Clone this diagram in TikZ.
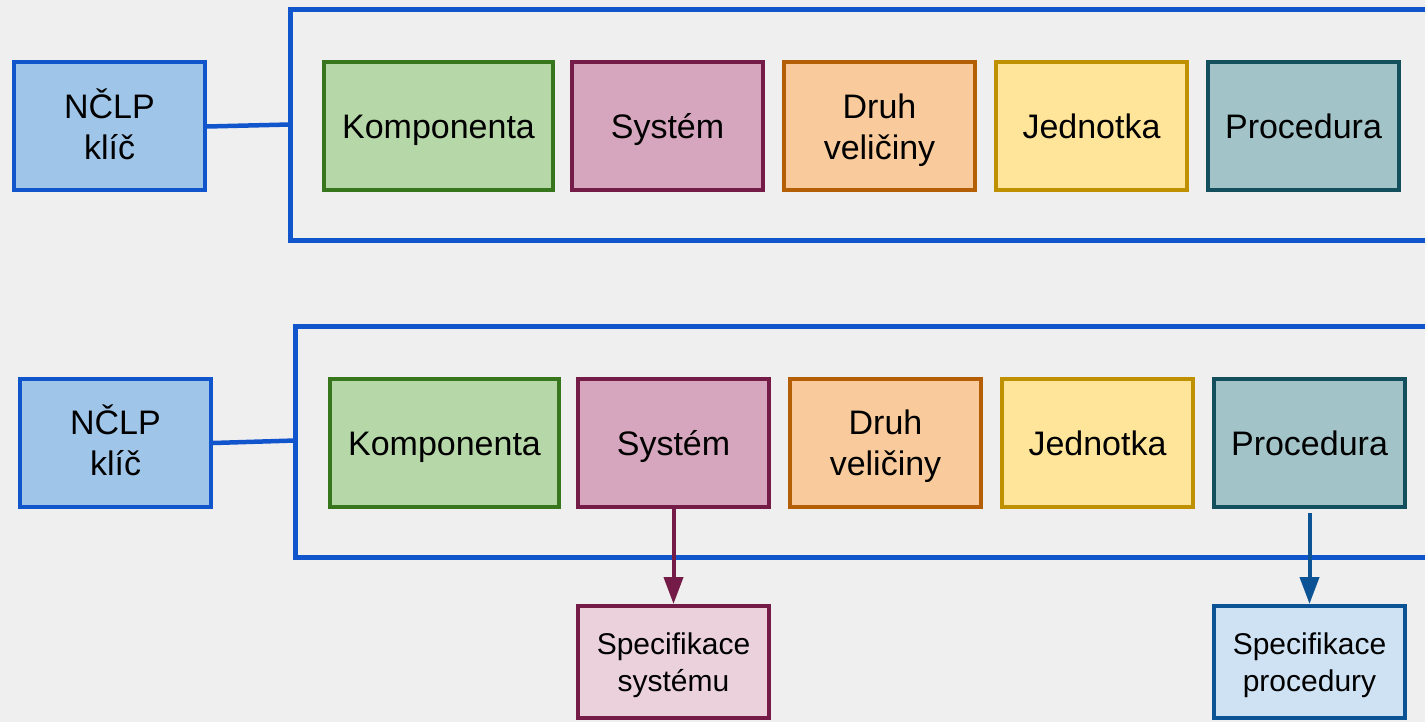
\documentclass[tikz,border=0pt]{standalone}
\usepackage{fontspec}
\setmainfont{Liberation Sans}
\usetikzlibrary{arrows.meta}
\definecolor{bg}{HTML}{EFEFEF}
\definecolor{frameblue}{HTML}{1155CC}
\definecolor{keyfill}{HTML}{9FC5E8}
\definecolor{gfill}{HTML}{B6D7A8}\definecolor{gline}{HTML}{38761D}
\definecolor{pfill}{HTML}{D5A6BD}\definecolor{pline}{HTML}{741B47}
\definecolor{ofill}{HTML}{F9CB9C}\definecolor{oline}{HTML}{B45F06}
\definecolor{yfill}{HTML}{FFE599}\definecolor{yline}{HTML}{BF9000}
\definecolor{tfill}{HTML}{A2C4C9}\definecolor{tline}{HTML}{134F5C}
\definecolor{lpfill}{HTML}{EAD1DC}
\definecolor{lbfill}{HTML}{CFE2F3}\definecolor{bline}{HTML}{0B5394}
\newcommand\bigst{\rule[-8.35pt]{0pt}{41pt}}
\newcommand\smallst{\rule[-7.75pt]{0pt}{37pt}}
\begin{document}
\begin{tikzpicture}[x=1pt,y=-1pt,
  box/.style={draw,line width=4pt,minimum height=128pt,inner sep=0pt,align=center,
    font=\fontsize{34}{41}\selectfont},
  nbox/.style={box,minimum width=191pt},
  wbox/.style={box,minimum width=229pt},
  keybox/.style={nbox,fill=keyfill,draw=frameblue},
  specbox/.style={draw,line width=4pt,minimum width=191pt,minimum height=112pt,inner sep=0pt,
    align=center,font=\fontsize{30}{37}\selectfont},
  frame/.style={draw=frameblue,line width=5pt},
  link/.style={draw=frameblue,line width=4.5pt},
  arr/.style={line width=4pt,-{Triangle[length=27pt,width=19pt]}}]
\fill[bg] (0,0) rectangle (1425,722);
\useasboundingbox (0,0) rectangle (1425,722);
\clip (0,0) rectangle (1425,722);
% top row
\node[keybox] (key1) at (109.5,126.5) {\bigst NČLP\\\bigst klíč};
\node[wbox,fill=gfill,draw=gline] (komp1) at (438.5,126.5) {\bigst Komponenta};
\node[nbox,fill=pfill,draw=pline] (sys1) at (667.5,126.5) {\bigst Systém};
\node[nbox,fill=ofill,draw=oline] (druh1) at (879.5,126.5) {\bigst Druh\\\bigst veličiny};
\node[nbox,fill=yfill,draw=yline] (jedn1) at (1091.5,126.5) {\bigst Jednotka};
\node[nbox,fill=tfill,draw=tline] (proc1) at (1303.5,126.5) {\bigst Procedura};
\draw[frame] (1440,9.5) -| (290,240.5) -- (1440,240.5);
\coordinate (f1) at (290,124.5);
\draw[link] (key1.east) -- (f1);
% bottom row
\node[keybox] (key2) at (115.5,443) {\bigst NČLP\\\bigst klíč};
\node[wbox,fill=gfill,draw=gline] (komp2) at (444.5,443) {\bigst Komponenta};
\node[nbox,fill=pfill,draw=pline] (sys2) at (673.5,443) {\bigst Systém};
\node[nbox,fill=ofill,draw=oline] (druh2) at (885.5,443) {\bigst Druh\\\bigst veličiny};
\node[nbox,fill=yfill,draw=yline] (jedn2) at (1097.5,443) {\bigst Jednotka};
\node[nbox,fill=tfill,draw=tline] (proc2) at (1309.5,443) {\bigst Procedura};
\draw[frame] (1440,326) -| (295.5,557.5) -- (1440,557.5);
\coordinate (f2) at (295.5,440.5);
\draw[link] (key2.east) -- (f2);
% specifications
\node[specbox,fill=lpfill,draw=pline] (spec1) at (673.5,662) {\smallst Specifikace\\\smallst systému};
\node[specbox,fill=lbfill,draw=bline] (spec2) at (1309.5,662) {\smallst Specifikace\\\smallst procedury};
\draw[arr,draw=pline,fill=pline] (sys2.south) -- (spec1.north);
\draw[arr,draw=bline,fill=bline] ([yshift=-4pt]proc2.south) -- (spec2.north);
\end{tikzpicture}
\end{document}
